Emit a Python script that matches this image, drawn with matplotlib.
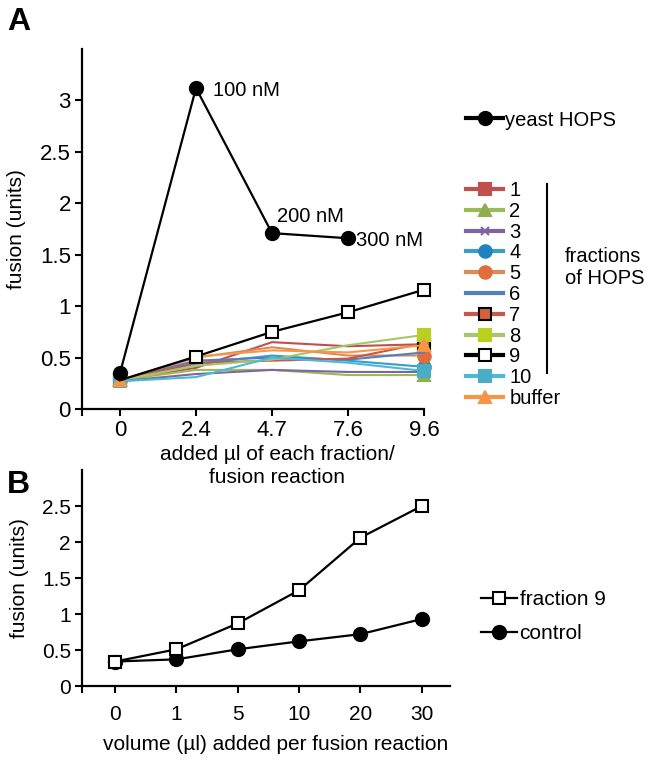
import matplotlib
matplotlib.use("Agg")
import matplotlib.pyplot as plt
from matplotlib.lines import Line2D
from matplotlib.ticker import FuncFormatter

plt.rcParams['font.family'] = ['Liberation Sans', 'DejaVu Sans']

# ---- panel A data ----
a_cats = ['0', '2.4', '4.7', '7.6', '9.6']
yeast_hops = [0.35, 3.12, 1.71, 1.66]
fractions = {
    '1': [0.28, 0.40, 0.65, 0.61, 0.63],
    '2': [0.28, 0.38, 0.38, 0.33, 0.33],
    '3': [0.27, 0.34, 0.38, 0.36, 0.36],
    '4': [0.28, 0.44, 0.52, 0.47, 0.41],
    '5': [0.28, 0.50, 0.60, 0.52, 0.52],
    '6': [0.28, 0.47, 0.50, 0.48, 0.55],
    '7': [0.28, 0.45, 0.47, 0.49, 0.64],
    '8': [0.28, 0.42, 0.48, 0.62, 0.72],
    '9': [0.28, 0.51, 0.75, 0.94, 1.16],
    '10': [0.27, 0.31, 0.50, 0.45, 0.37],
    'buffer': [0.28, 0.51, 0.57, 0.55, 0.62],
}
hops_notes = ['100 nM', '200 nM', '300 nM']

# ---- panel B data ----
b_cats = ['0', '1', '5', '10', '20', '30']
fraction9_b = [0.34, 0.51, 0.87, 1.33, 2.06, 2.50]
control_b = [0.34, 0.37, 0.51, 0.62, 0.72, 0.93]

# style per fraction: line colour, marker, marker face, marker edge
styles = {
    '1': ('#C0504D', 's', '#C0504D', '#C0504D'),
    '2': ('#9BBB59', '^', '#8FAE4E', '#8FAE4E'),
    '3': ('#8064A2', 'x', '#8064A2', '#8064A2'),
    '4': ('#3E9DC4', 'o', '#1F83C2', '#1F83C2'),
    '5': ('#DB8A5A', 'o', '#E06E3C', '#E06E3C'),
    '6': ('#4F81BD', 'None', '#4F81BD', '#4F81BD'),
    '7': ('#C9564A', 's', '#D4613C', 'black'),
    '8': ('#A5C66A', 's', '#B7D11E', '#B7D11E'),
    '9': ('black', 's', 'white', 'black'),
    '10': ('#4BBAD6', 's', '#4BACC6', '#4BACC6'),
    'buffer': ('#F79646', '^', '#F79646', '#F79646'),
}

W, H = 652, 761
fig = plt.figure(figsize=(W / 100, H / 100), dpi=100)


def px_axes(l, t, r, b):
    return fig.add_axes([l / W, 1 - b / H, (r - l) / W, (b - t) / H])


fmt = FuncFormatter(lambda v, p: '%g' % v)

# ================= Panel B (drawn first, A's label sits above it) =================
bx = px_axes(82, 470, 450, 686)
bx.patch.set_visible(False)
xb = list(range(len(b_cats)))
l9, = bx.plot(xb, fraction9_b, color='black', lw=1.6, marker='s', ms=8, mfc='white',
              mec='black', mew=1.5, clip_on=False, zorder=4, label='fraction 9')
lc, = bx.plot(xb, control_b, color='black', lw=1.6, marker='o', ms=10, mfc='black',
              mec='black', clip_on=False, zorder=3, label='control')
bx.set_xlim(-0.54, 5.46)
bx.set_ylim(0, 3)
bx.set_yticks([0, 0.5, 1, 1.5, 2, 2.5])
bx.yaxis.set_major_formatter(fmt)
bx.set_xticks([-0.54] + xb)
bx.set_xticklabels([''] + b_cats)
for s in ['top', 'right']:
    bx.spines[s].set_visible(False)
for s in ['left', 'bottom']:
    bx.spines[s].set_linewidth(1.6)
bx.tick_params(direction='out', length=5, width=1.5, labelsize=15, pad=9)
bx.tick_params(axis='y', pad=3)
bx.set_ylabel('fusion (units)', fontsize=15)
bx.yaxis.set_label_coords(-0.145, 0.5)
bx.set_xlabel('volume (µl) added per fusion reaction', fontsize=15)
bx.xaxis.set_label_coords(0.527, -0.225)
legb = bx.legend([l9, lc], ['fraction 9', 'control'], loc='upper left',
                 bbox_to_anchor=(481 / W, 1 - 590 / H), bbox_transform=fig.transFigure,
                 frameon=False, fontsize=15, handlelength=1.75, handletextpad=0.1,
                 borderpad=0, borderaxespad=0, labelspacing=0.72)

# ================= Panel A =================
ax = px_axes(82, 49, 424, 409)
ax.patch.set_visible(False)
xa = list(range(len(a_cats)))
handles = []
for name, vals in fractions.items():
    col, mk, fc, ec = styles[name]
    if name == '9':
        ln, = ax.plot(xa, vals, color=col, lw=1.6, marker=mk, ms=8, mfc=fc, mec=ec,
                      mew=1.5, markevery=[1, 2, 3, 4], clip_on=False, zorder=4,
                      label=name)
    else:
        ln, = ax.plot(xa, vals, color=col, lw=1.5, marker=mk, ms=9 if mk != 'x' else 6,
                      mfc=fc, mec=ec, mew=1.5, markevery=[0, -1], clip_on=False,
                      zorder=3, label=name)
    handles.append(ln)

hl, = ax.plot(xa[:len(yeast_hops)], yeast_hops, color='black', lw=1.6, marker='o',
              ms=10, mfc='black', mec='black', clip_on=False, zorder=5,
              label='yeast HOPS')

offsets = [(17, -2), (5, 17), (8, -2)]
for i, (txt, off) in enumerate(zip(hops_notes, offsets)):
    ax.annotate(txt, (xa[i + 1], yeast_hops[i + 1]), xytext=off,
                textcoords='offset pixels', fontsize=14.5, va='center', ha='left')

ax.set_xlim(-0.5, 4)
ax.set_ylim(0, 3.5)
ax.set_yticks([0, 0.5, 1, 1.5, 2, 2.5, 3])
ax.yaxis.set_major_formatter(fmt)
ax.set_xticks([-0.5] + xa)
ax.set_xticklabels([''] + a_cats)
for s in ['top', 'right']:
    ax.spines[s].set_visible(False)
for s in ['left', 'bottom']:
    ax.spines[s].set_linewidth(1.6)
ax.tick_params(direction='out', length=5, width=1.5, labelsize=16, pad=3)
ax.set_ylabel('fusion (units)', fontsize=15)
ax.yaxis.set_label_coords(-0.165, 0.5)
ax.set_xlabel('added µl of each fraction/\nfusion reaction', fontsize=15,
              linespacing=1.3)
ax.xaxis.set_label_coords(0.57, -0.1)

leg1 = ax.legend([hl], ['yeast HOPS'], loc='center left',
                 bbox_to_anchor=(466 / W, 1 - 120 / H), bbox_transform=fig.transFigure,
                 frameon=False, fontsize=14.5, handlelength=1.85, handletextpad=0.1,
                 borderpad=0, borderaxespad=0)
for h in leg1.get_lines():
    h.set_linewidth(3)
ax.add_artist(leg1)

leg2 = ax.legend(handles, list(fractions.keys()), loc='upper left',
                 bbox_to_anchor=(466 / W, 1 - 181 / H), bbox_transform=fig.transFigure,
                 frameon=False, fontsize=14.5, handlelength=1.85, handletextpad=0.3,
                 borderpad=0, borderaxespad=0, labelspacing=0.09, numpoints=1)
for h in leg2.get_lines():
    h.set_linewidth(3)

fig.add_artist(Line2D([547 / W, 547 / W], [1 - 184 / H, 1 - 373 / H],
                      transform=fig.transFigure, color='black', lw=1.5))
fig.text(565 / W, 1 - 267 / H, 'fractions\nof HOPS', fontsize=14.5, va='center',
         ha='left', linespacing=1.2)

fig.text(7 / W, 1 - 22 / H, 'A', fontsize=23, fontweight='bold', va='center')
fig.text(7 / W, 1 - 485 / H, 'B', fontsize=23, fontweight='bold', va='center')

fig.savefig('out.png', dpi=100)
